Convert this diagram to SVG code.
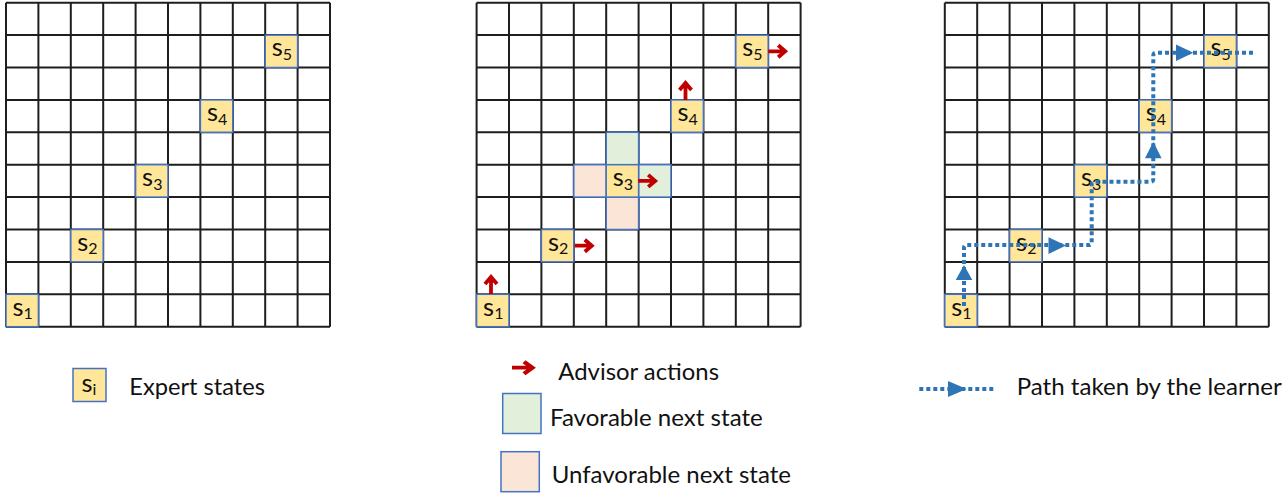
<svg xmlns="http://www.w3.org/2000/svg" xmlns:xlink="http://www.w3.org/1999/xlink" width="1286" height="494" viewBox="0 0 1286 494">
<style>
.gl{stroke:#1e1e1e;stroke-width:2;fill:none}
.ex{fill:#FFE699;stroke:#4472C4;stroke-width:1.5}
.fav{fill:#E2EFDA;stroke:#4472C4;stroke-width:1.5}
.unf{fill:#FBE5D6;stroke:#4472C4;stroke-width:1.5}
.s{font-family:Lato,"Liberation Sans",sans-serif;font-size:25.5px;fill:#111}
.sub{font-size:16px}
.lg{font-family:Lato,"Liberation Sans",sans-serif;font-size:23px;fill:#111}
.ra{stroke:#C00000;stroke-width:3.8;fill:none;stroke-linejoin:miter}
.bp{stroke:#2E75B6;stroke-width:4;fill:none;stroke-dasharray:4 3}
.bh{fill:#2E75B6}
</style>
<defs>
<g id="grid">
<rect x="0" y="0" width="324" height="324" fill="#fff"/>
<path class="gl" d="M0,0V324M32.4,0V324M64.8,0V324M97.2,0V324M129.6,0V324M162,0V324M194.4,0V324M226.8,0V324M259.2,0V324M291.6,0V324M324,0V324M0,0H324M0,32.4H324M0,64.8H324M0,97.2H324M0,129.6H324M0,162H324M0,194.4H324M0,226.8H324M0,259.2H324M0,291.6H324M0,324H324"/>
</g>
<g id="ra"><path class="ra" d="M0,0H16M10,-6L17,0L10,6"/></g>
</defs>

<g id="grid1" transform="translate(6,2.7)">
<use xlink:href="#grid"/>
<g id="g1-s1"><rect class="ex" x="0" y="291.6" width="32.4" height="32.4"/><text class="s" x="6.5" y="313">s<tspan class="sub" dy="3.5">1</tspan></text></g>
<g id="g1-s2"><rect class="ex" x="64.8" y="226.8" width="32.4" height="32.4"/><text class="s" x="71.3" y="248.2">s<tspan class="sub" dy="3.5">2</tspan></text></g>
<g id="g1-s3"><rect class="ex" x="129.6" y="162" width="32.4" height="32.4"/><text class="s" x="136.1" y="183.4">s<tspan class="sub" dy="3.5">3</tspan></text></g>
<g id="g1-s4"><rect class="ex" x="194.4" y="97.2" width="32.4" height="32.4"/><text class="s" x="200.9" y="118.6">s<tspan class="sub" dy="3.5">4</tspan></text></g>
<g id="g1-s5"><rect class="ex" x="259.2" y="32.4" width="32.4" height="32.4"/><text class="s" x="265.7" y="53.8">s<tspan class="sub" dy="3.5">5</tspan></text></g>
</g>

<g id="grid2" transform="translate(476.6,2.7)">
<use xlink:href="#grid"/>
<g id="g2-fav1"><rect class="fav" x="129.6" y="129.6" width="32.4" height="32.4"/></g>
<g id="g2-fav2"><rect class="fav" x="162" y="162" width="32.4" height="32.4"/></g>
<g id="g2-unf1"><rect class="unf" x="97.2" y="162" width="32.4" height="32.4"/></g>
<g id="g2-unf2"><rect class="unf" x="129.6" y="194.4" width="32.4" height="32.4"/></g>
<g id="g2-s1"><rect class="ex" x="0" y="291.6" width="32.4" height="32.4"/><text class="s" x="6.5" y="313">s<tspan class="sub" dy="3.5">1</tspan></text></g>
<g id="g2-s2"><rect class="ex" x="64.8" y="226.8" width="32.4" height="32.4"/><text class="s" x="71.3" y="248.2">s<tspan class="sub" dy="3.5">2</tspan></text></g>
<g id="g2-s3"><rect class="ex" x="129.6" y="162" width="32.4" height="32.4"/><text class="s" x="136.1" y="183.4">s<tspan class="sub" dy="3.5">3</tspan></text></g>
<g id="g2-s4"><rect class="ex" x="194.4" y="97.2" width="32.4" height="32.4"/><text class="s" x="200.9" y="118.6">s<tspan class="sub" dy="3.5">4</tspan></text></g>
<g id="g2-s5"><rect class="ex" x="259.2" y="32.4" width="32.4" height="32.4"/><text class="s" x="265.7" y="53.8">s<tspan class="sub" dy="3.5">5</tspan></text></g>
</g>

<g id="grid3" transform="translate(944.8,2.7)">
<use xlink:href="#grid"/>
<g id="g3-s1"><rect class="ex" x="0" y="291.6" width="32.4" height="32.4"/><text class="s" x="6.5" y="313">s<tspan class="sub" dy="3.5">1</tspan></text></g>
<g id="g3-s2"><rect class="ex" x="64.8" y="226.8" width="32.4" height="32.4"/><text class="s" x="71.3" y="248.2">s<tspan class="sub" dy="3.5">2</tspan></text></g>
<g id="g3-s3"><rect class="ex" x="129.6" y="162" width="32.4" height="32.4"/><text class="s" x="136.1" y="183.4">s<tspan class="sub" dy="3.5">3</tspan></text></g>
<g id="g3-s4"><rect class="ex" x="194.4" y="97.2" width="32.4" height="32.4"/><text class="s" x="200.9" y="118.6">s<tspan class="sub" dy="3.5">4</tspan></text></g>
<g id="g3-s5"><rect class="ex" x="259.2" y="32.4" width="32.4" height="32.4"/><text class="s" x="265.7" y="53.8">s<tspan class="sub" dy="3.5">5</tspan></text></g>
</g>

<g id="connectors">
<g id="advisor-arrows">
<use xlink:href="#ra" transform="translate(768.2,51.3)"/>
<use xlink:href="#ra" transform="translate(685.5,99.9) rotate(-90)"/>
<use xlink:href="#ra" transform="translate(638.2,180.9)"/>
<use xlink:href="#ra" transform="translate(574.8,245.7)"/>
<use xlink:href="#ra" transform="translate(491,294) rotate(-90)"/>
</g>
<g id="learner-path">
<path class="bp" d="M964,306V248Q964,245 967,245H1088.7Q1091.7,245 1091.7,242V184.7Q1091.7,181.7 1094.7,181.7H1150.3Q1153.3,181.7 1153.3,178.7V55.7Q1153.3,52.7 1156.3,52.7H1253"/>
<polygon class="bh" points="964,265 972.3,280 955.7,280"/>
<polygon class="bh" points="1066,245.6 1048.5,237.3 1048.5,254"/>
<polygon class="bh" points="1153.3,141.7 1161.6,158.3 1145,158.3"/>
<polygon class="bh" points="1193.3,52.7 1176,44.5 1176,61"/>
</g>
</g>

<g id="legend">
<g id="leg-expert">
<rect class="ex" x="73" y="368.5" width="33" height="33"/>
<text class="s" x="81.5" y="391.5">s<tspan class="sub" dy="3.5">i</tspan></text>
<text class="lg" x="129.3" y="395" textLength="135.7" lengthAdjust="spacingAndGlyphs">Expert states</text>
</g>
<g id="leg-advisor">
<use xlink:href="#ra" transform="translate(512,367.7) scale(1.2,1)"/>
<text class="lg" x="558.3" y="380" textLength="160.7" lengthAdjust="spacingAndGlyphs">Advisor actions</text>
</g>
<g id="leg-fav">
<rect class="fav" x="502.7" y="393.5" width="38.3" height="40"/>
<text class="lg" x="550" y="426" textLength="212.7" lengthAdjust="spacingAndGlyphs">Favorable next state</text>
</g>
<g id="leg-unf">
<rect class="unf" x="501" y="451.7" width="38.3" height="40"/>
<text class="lg" x="551.7" y="482.7" textLength="239.3" lengthAdjust="spacingAndGlyphs">Unfavorable next state</text>
</g>
<g id="leg-path">
<path class="bp" d="M919.3,389H995"/>
<polygon class="bh" points="966.7,389 948,381 948,397"/>
<text class="lg" x="1016.7" y="395" textLength="265" lengthAdjust="spacingAndGlyphs">Path taken by the learner</text>
</g>
</g>
</svg>
